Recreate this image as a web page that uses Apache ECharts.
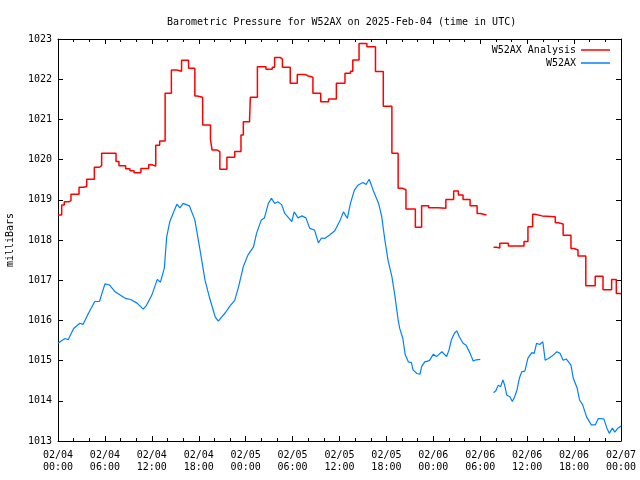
<!DOCTYPE html>
<html><head><meta charset="utf-8">
<script src="https://cdn.jsdelivr.net/npm/echarts@6/dist/echarts.min.js"></script>
<style>html,body{margin:0;padding:0;background:#fff}#c{width:640px;height:480px}</style>
</head><body><div id="c"></div>
<script>
// hours since 2025-02-04 00:00 UTC
const analysisHours = [0,0.47,0.8,1.4,1.66,2.69,3.3,3.67,4.65,5.3,5.58,7.42,7.8,8.65,9.2,9.72,10.6,11.6,12.0,12.5,13.0,13.7,14.2,14.5,15.2,15.8,16.7,17.5,17.8,18.5,19.5,19.7,20.3,20.7,21.6,22.6,23.4,23.7,24.5,24.6,25.5,26.6,27.4,27.7,28.4,28.7,29.7,30.6,31.6,32.0,32.6,33.6,34.6,35.6,36.7,37.4,37.7,38.5,39.5,40.6,41.6,42.7,43.5,44.0,44.5,45.7,46.5,47.4,48.6,49.6,50.6,51.2,51.8,52.7,53.6,54.0,54.8,55.7,56.1,56.5,57.6,59.6,60.1,60.7,61.0,61.9,63.6,64.0,64.6,65.6,66.0,66.5,67.0,67.5,68.7,69.7,70.8,71.4,72];
const analysisValues = [1018.62,1018.87,1018.95,1018.98,1019.14,1019.31,1019.33,1019.51,1019.81,1019.85,1020.16,1019.95,1019.85,1019.77,1019.72,1019.67,1019.78,1019.87,1019.84,1020.36,1020.46,1021.65,1021.65,1022.23,1022.2,1022.47,1022.27,1021.58,1021.55,1020.86,1020.5,1020.24,1020.2,1019.76,1020.06,1020.2,1020.61,1020.94,1021.0,1021.55,1022.31,1022.25,1022.3,1022.54,1022.5,1022.3,1021.9,1022.12,1022.08,1022.05,1021.65,1021.44,1021.51,1021.9,1022.15,1022.2,1022.48,1022.89,1022.81,1022.19,1021.33,1020.16,1019.29,1019.25,1018.77,1018.32,1018.85,1018.8,1018.79,1019.01,1019.22,1019.12,1019.01,1018.85,1018.66,1018.62,null,1017.82,1017.8,1017.92,1017.85,1017.96,1018.33,1018.64,1018.6,1018.58,1018.43,1018.4,1018.12,1017.79,1017.75,1017.6,1017.6,1016.86,1017.1,1016.76,1017.02,1016.67,1016.67];

const stationHours = [0,0.5,0.9,1.3,2.0,2.8,3.2,3.9,4.7,5.3,6.0,6.6,7.3,8.6,9.3,10.1,10.9,11.3,12.0,12.7,13.1,13.6,13.9,14.3,15.2,15.6,16.0,16.8,17.5,18.2,18.8,19.4,20.1,20.5,21.0,21.4,22.0,22.6,23.1,23.7,24.3,25.0,25.4,26.0,26.4,26.9,27.3,27.7,28.1,28.6,29.0,29.5,29.9,30.2,30.7,31.2,31.7,32.2,32.8,33.3,33.7,34.1,34.7,35.4,36.1,36.5,37.0,37.4,37.9,38.4,39.0,39.4,39.8,40.3,41.0,41.4,41.8,42.2,42.7,43.1,43.5,43.7,44.1,44.4,44.8,45.2,45.4,45.9,46.3,46.5,46.9,47.5,48.0,48.4,49.1,49.7,50.0,50.3,50.7,51.0,51.3,51.8,52.2,52.7,53.1,53.5,54.0,54.8,55.7,56.0,56.3,56.6,56.9,57.1,57.4,57.8,58.1,58.4,58.7,59.0,59.3,59.7,60.1,60.6,60.9,61.2,61.6,62.0,62.3,62.7,63.1,63.8,64.2,64.6,65.0,65.6,65.9,66.4,66.7,67.1,67.6,68.2,68.7,69.1,69.8,70.2,70.5,70.9,71.2,71.6,72.0];
const stationValues = [1015.43,1015.5,1015.55,1015.52,1015.8,1015.93,1015.9,1016.18,1016.47,1016.47,1016.91,1016.88,1016.71,1016.55,1016.52,1016.43,1016.28,1016.37,1016.63,1017.02,1016.95,1017.3,1018.08,1018.46,1018.89,1018.8,1018.91,1018.85,1018.5,1017.71,1017.0,1016.55,1016.09,1015.98,1016.1,1016.19,1016.36,1016.5,1016.84,1017.34,1017.63,1017.83,1018.17,1018.5,1018.55,1018.91,1019.04,1018.91,1018.95,1018.88,1018.66,1018.55,1018.46,1018.7,1018.55,1018.6,1018.55,1018.29,1018.25,1017.93,1018.05,1018.04,1018.12,1018.23,1018.5,1018.7,1018.54,1018.91,1019.24,1019.37,1019.43,1019.38,1019.51,1019.24,1018.91,1018.58,1018.0,1017.5,1017.09,1016.59,1016.01,1015.8,1015.55,1015.15,1014.97,1014.95,1014.77,1014.68,1014.66,1014.85,1014.97,1015.0,1015.16,1015.1,1015.22,1015.1,1015.26,1015.51,1015.68,1015.74,1015.6,1015.43,1015.38,1015.18,1014.99,1015.02,1015.03,null,1014.2,1014.25,1014.39,1014.35,1014.52,1014.4,1014.14,1014.1,1013.98,1014.1,1014.27,1014.56,1014.72,1014.74,1015.06,1015.2,1015.18,1015.43,1015.4,1015.47,1015.01,1015.05,1015.1,1015.22,1015.18,1015.01,1015.04,1014.89,1014.56,1014.31,1014.02,1013.9,1013.6,1013.4,1013.4,1013.56,1013.55,1013.32,1013.19,1013.32,1013.22,1013.32,1013.37];

const titleText = 'Barometric Pressure for W52AX on 2025-Feb-04 (time in UTC)';
const yAxisTitle = 'milliBars';
const seriesNames = ['W52AX Analysis', 'W52AX'];

const font = 'DejaVu Sans Mono';
const pairs = (xs, ys) => xs.map((x, i) => [x, ys[i]]);
function fmtX(v) {
  const day = 4 + Math.floor(v / 24);
  const hr = v % 24;
  return '02/0' + day + '\n' + (hr < 10 ? '0' : '') + hr + ':00';
}
const chart = echarts.init(document.getElementById('c'), null, {renderer: 'canvas'});
const axisLine = {show: true, onZero: false, lineStyle: {color: '#000', width: 1}};
const tickIn = {show: true, inside: true, length: 5, lineStyle: {color: '#000'}};
const minorIn = {show: true, splitNumber: 3, length: 3, lineStyle: {color: '#000'}};
chart.setOption({
  animation: false,
  backgroundColor: '#fff',
  textStyle: {fontFamily: font},
  title: {text: titleText, left: 162, top: 12, textStyle: {fontFamily: font, fontSize: 10, fontWeight: 'normal', color: '#000'}},
  legend: {
    orient: 'vertical', right: 30, top: 44, padding: 0, itemGap: 1, align: 'right',
    itemWidth: 29, itemHeight: 1.5, icon: 'rect',
    textStyle: {fontFamily: font, fontSize: 10, color: '#000', lineHeight: 12, height: 12},
    data: seriesNames
  },
  grid: {left: 58, right: 19, top: 39, bottom: 39},
  xAxis: [{
    type: 'value', min: 0, max: 72, interval: 6,
    axisLine, axisTick: tickIn, minorTick: minorIn, splitLine: {show: false},
    axisLabel: {formatter: fmtX, fontFamily: font, fontSize: 10, color: '#000', margin: 8, lineHeight: 12}
  }, {
    type: 'value', min: 0, max: 72, interval: 6, position: 'top',
    axisLine, axisTick: tickIn, minorTick: minorIn, splitLine: {show: false}, axisLabel: {show: false}
  }],
  yAxis: [{
    type: 'value', min: 1013, max: 1023, interval: 1,
    axisLine, axisTick: tickIn, splitLine: {show: false},
    axisLabel: {formatter: v => String(v), fontFamily: font, fontSize: 10, color: '#000', margin: 6}
  }, {
    type: 'value', min: 1013, max: 1023, interval: 1, position: 'right',
    axisLine, axisTick: tickIn, splitLine: {show: false}, axisLabel: {show: false}
  }],
  graphic: [{
    type: 'text', x: 10, y: 240, rotation: Math.PI / 2,
    style: {text: yAxisTitle, font: '10px "DejaVu Sans Mono"', fill: '#000', textAlign: 'center', textVerticalAlign: 'middle'}
  }],
  series: [{
    name: seriesNames[0], type: 'line', step: 'end', symbol: 'none', connectNulls: false,
    data: pairs(analysisHours, analysisValues),
    itemStyle: {color: '#ff0000'}, lineStyle: {color: '#ff0000', width: 1.5}
  }, {
    name: seriesNames[1], type: 'line', symbol: 'none', connectNulls: false,
    data: pairs(stationHours, stationValues),
    itemStyle: {color: '#0080ff'}, lineStyle: {color: '#0080ff', width: 1.2}
  }]
});
</script></body></html>
